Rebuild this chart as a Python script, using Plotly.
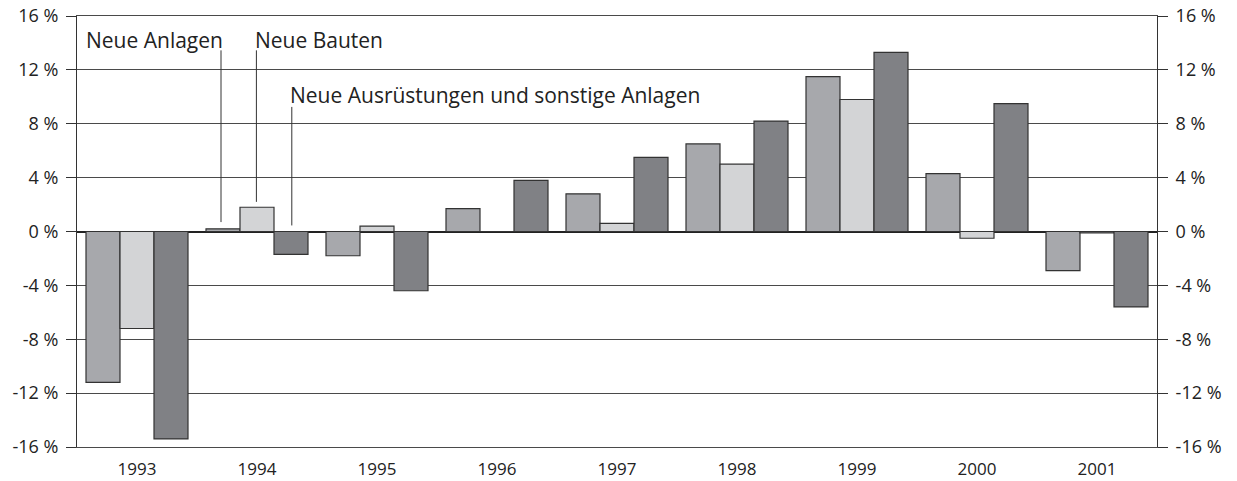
import plotly.graph_objects as go

years = ["1993", "1994", "1995", "1996", "1997", "1998", "1999", "2000", "2001"]
neue_anlagen = [-11.2, 0.2, -1.8, 1.7, 2.8, 6.5, 11.5, 4.3, -2.9]
neue_bauten = [-7.2, 1.8, 0.4, 0.0, 0.6, 5.0, 9.8, -0.5, -0.1]
neue_ausruestungen = [-15.4, -1.7, -4.4, 3.8, 5.5, 8.2, 13.3, 9.5, -5.6]

tick_vals = [-16, -12, -8, -4, 0, 4, 8, 12, 16]
tick_text = ["-16 %", "-12 %", "-8 %", "-4 %", "0 %", "4 %", "8 %", "12 %", "16 %"]

names = ["Neue Anlagen", "Neue Bauten", "Neue Ausrüstungen und sonstige Anlagen"]
colors = ["#a7a8ac", "#d3d4d6", "#808185"]
FONT = "Open Sans"

fig = go.Figure()
for name, vals, col in zip(names, [neue_anlagen, neue_bauten, neue_ausruestungen], colors):
    fig.add_trace(go.Bar(x=years, y=vals, name=name, marker=dict(color=col, line=dict(color="#333333", width=1.2)),
                         yaxis="y"))
# invisible trace to activate right axis
fig.add_trace(go.Scatter(x=years, y=[0] * len(years), yaxis="y2", mode="markers",
                         marker=dict(opacity=0), hoverinfo="skip", showlegend=False))

axis_common = dict(range=[-16, 16], tickvals=tick_vals, ticktext=tick_text, ticks="outside", ticklen=10,
                   tickcolor="#333333", tickwidth=1, showgrid=True, gridcolor="#4a4a4a", gridwidth=1.4,
                   showline=True, linecolor="#333333", linewidth=1, automargin=False,
                   zeroline=True, zerolinecolor="#222222", zerolinewidth=2, ticklabelstandoff=4,
                   tickfont=dict(family=FONT, size=18, color="#222222"))

fig.update_layout(
    width=1237, height=481,
    margin=dict(l=77, r=80, t=16, b=34),
    paper_bgcolor="white", plot_bgcolor="white",
    barmode="group", bargap=0.15, bargroupgap=0,
    showlegend=False,
    xaxis=dict(showgrid=False, showline=True, mirror=True, linecolor="#4a4a4a", linewidth=1.4,
               ticks="", zeroline=False, automargin=False, ticklabelstandoff=6,
               tickfont=dict(family=FONT, size=17, color="#222222")),
    yaxis=dict(side="left", **axis_common),
    yaxis2=dict(side="right", overlaying="y", **{**axis_common, "showgrid": False, "zeroline": False}),
)

# leader lines pointing to 1994 bars
lines = [(0.70, 13.45, 0.7), (0.995, 13.45, 2.2), (1.29, 9.25, 0.45)]
for x, y0, y1 in lines:
    fig.add_shape(type="line", xref="x", yref="y", x0=x, x1=x, y0=y0, y1=y1,
                  line=dict(color="#333333", width=1))

labels = [(-0.42, 14.2, names[0]), (0.99, 14.2, names[1]), (1.285, 10.1, names[2])]
for x, y, t in labels:
    fig.add_annotation(x=x, y=y, xref="x", yref="y", text=t, showarrow=False, xanchor="left", yanchor="middle",
                       xshift=-3, font=dict(family=FONT, size=21, color="#222222"))

fig.write_html("out.html", config={"displayModeBar": False},
               post_script="document.body.style.margin='0px';document.body.style.overflow='hidden';")
